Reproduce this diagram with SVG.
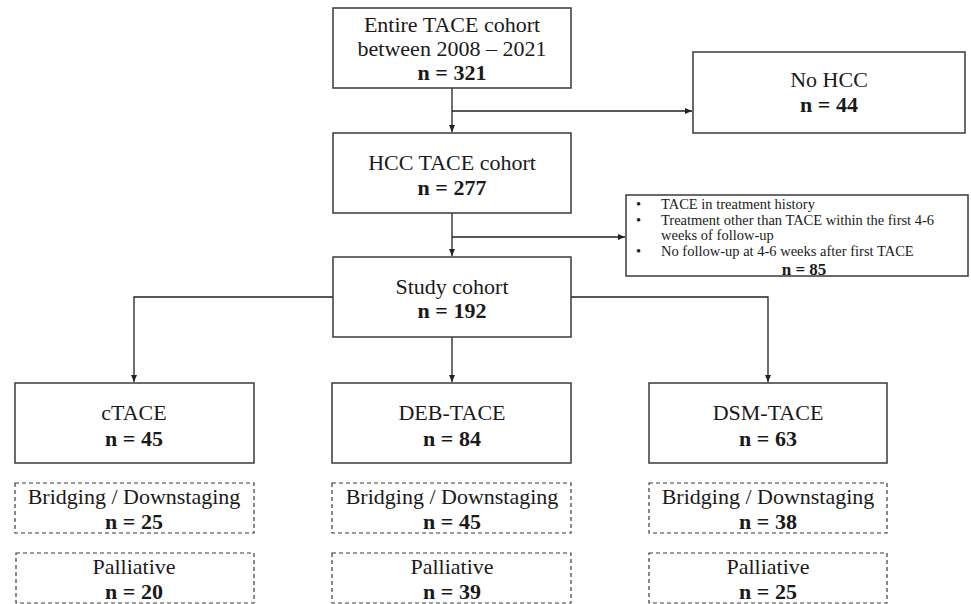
<svg xmlns="http://www.w3.org/2000/svg" width="971" height="604" viewBox="0 0 971 604">
<style>
.box{fill:#fff;stroke:#3a3a3a;stroke-width:1.5}
.dash{fill:#fff;stroke:#3a3a3a;stroke-width:1.2;stroke-dasharray:4 3}
.t{font-family:"Liberation Serif","Times New Roman",serif;font-size:22px;fill:#1a1a1a;text-anchor:middle}
.b{font-weight:bold}
.s{font-family:"Liberation Serif","Times New Roman",serif;font-size:14.5px;fill:#1a1a1a}
.c{fill:none;stroke:#222;stroke-width:1.3}
</style>
<defs>
<marker id="ah" markerWidth="8" markerHeight="8" refX="7" refY="4" orient="auto" markerUnits="userSpaceOnUse">
<path d="M0,1 L7,4 L0,7 Z" fill="#222"/>
</marker>
</defs>
<rect width="971" height="604" fill="#fff"/>
<g id="connectors">
<path class="c" d="M452,88 V132" marker-end="url(#ah)"/>
<path class="c" d="M452,111 H692" marker-end="url(#ah)"/>
<path class="c" d="M452,213 V256" marker-end="url(#ah)"/>
<path class="c" d="M452,237 H625" marker-end="url(#ah)"/>
<path class="c" d="M333,297 H134 V382" marker-end="url(#ah)"/>
<path class="c" d="M452,337 V382" marker-end="url(#ah)"/>
<path class="c" d="M571,297 H768 V382" marker-end="url(#ah)"/>
</g>
<g id="entire">
<rect class="box" x="333" y="8" width="238" height="80"/>
<text class="t" x="452" y="32">Entire TACE cohort</text>
<text class="t" x="452" y="56">between 2008 – 2021</text>
<text class="t b" x="452" y="80">n = 321</text>
</g>
<g id="nohcc">
<rect class="box" x="693" y="52" width="272" height="81"/>
<text class="t" x="829" y="87">No HCC</text>
<text class="t b" x="829" y="112">n = 44</text>
</g>
<g id="hcc">
<rect class="box" x="333" y="133" width="238" height="80"/>
<text class="t" x="452" y="170">HCC TACE cohort</text>
<text class="t b" x="452" y="195">n = 277</text>
</g>
<g id="excluded">
<rect class="box" x="626" y="195" width="342" height="81"/>
<text class="s" x="636" y="209">•</text>
<text class="s" x="661" y="209">TACE in treatment history</text>
<text class="s" x="636" y="225">•</text>
<text class="s" x="661" y="225">Treatment other than TACE within the first 4-6</text>
<text class="s" x="661" y="240">weeks of follow-up</text>
<text class="s" x="636" y="256">•</text>
<text class="s" x="661" y="256">No follow-up at 4-6 weeks after first TACE</text>
<text class="s b" x="804" y="275" text-anchor="middle" style="font-size:17px">n = 85</text>
</g>
<g id="study">
<rect class="box" x="333" y="257" width="238" height="80"/>
<text class="t" x="452" y="294">Study cohort</text>
<text class="t b" x="452" y="318">n = 192</text>
</g>
<g id="ctace">
<rect class="box" x="15" y="383" width="239" height="80"/>
<text class="t" x="134" y="420">cTACE</text>
<text class="t b" x="134" y="446">n = 45</text>
</g>
<g id="debtace">
<rect class="box" x="332" y="383" width="239" height="80"/>
<text class="t" x="452" y="420">DEB-TACE</text>
<text class="t b" x="452" y="446">n = 84</text>
</g>
<g id="dsmtace">
<rect class="box" x="649" y="383" width="238" height="80"/>
<text class="t" x="768" y="420">DSM-TACE</text>
<text class="t b" x="768" y="446">n = 63</text>
</g>
<g id="ctace-bridging">
<rect class="dash" x="15" y="483" width="239" height="50"/>
<text class="t" x="134" y="504">Bridging / Downstaging</text>
<text class="t b" x="134" y="529">n = 25</text>
</g>
<g id="ctace-palliative">
<rect class="dash" x="16" y="553" width="238" height="50"/>
<text class="t" x="134" y="574">Palliative</text>
<text class="t b" x="134" y="599">n = 20</text>
</g>
<g id="deb-bridging">
<rect class="dash" x="332" y="483" width="239" height="50"/>
<text class="t" x="452" y="504">Bridging / Downstaging</text>
<text class="t b" x="452" y="529">n = 45</text>
</g>
<g id="deb-palliative">
<rect class="dash" x="332" y="553" width="239" height="50"/>
<text class="t" x="452" y="574">Palliative</text>
<text class="t b" x="452" y="599">n = 39</text>
</g>
<g id="dsm-bridging">
<rect class="dash" x="649" y="483" width="238" height="50"/>
<text class="t" x="768" y="504">Bridging / Downstaging</text>
<text class="t b" x="768" y="529">n = 38</text>
</g>
<g id="dsm-palliative">
<rect class="dash" x="649" y="553" width="238" height="50"/>
<text class="t" x="768" y="574">Palliative</text>
<text class="t b" x="768" y="599">n = 25</text>
</g>
</svg>
